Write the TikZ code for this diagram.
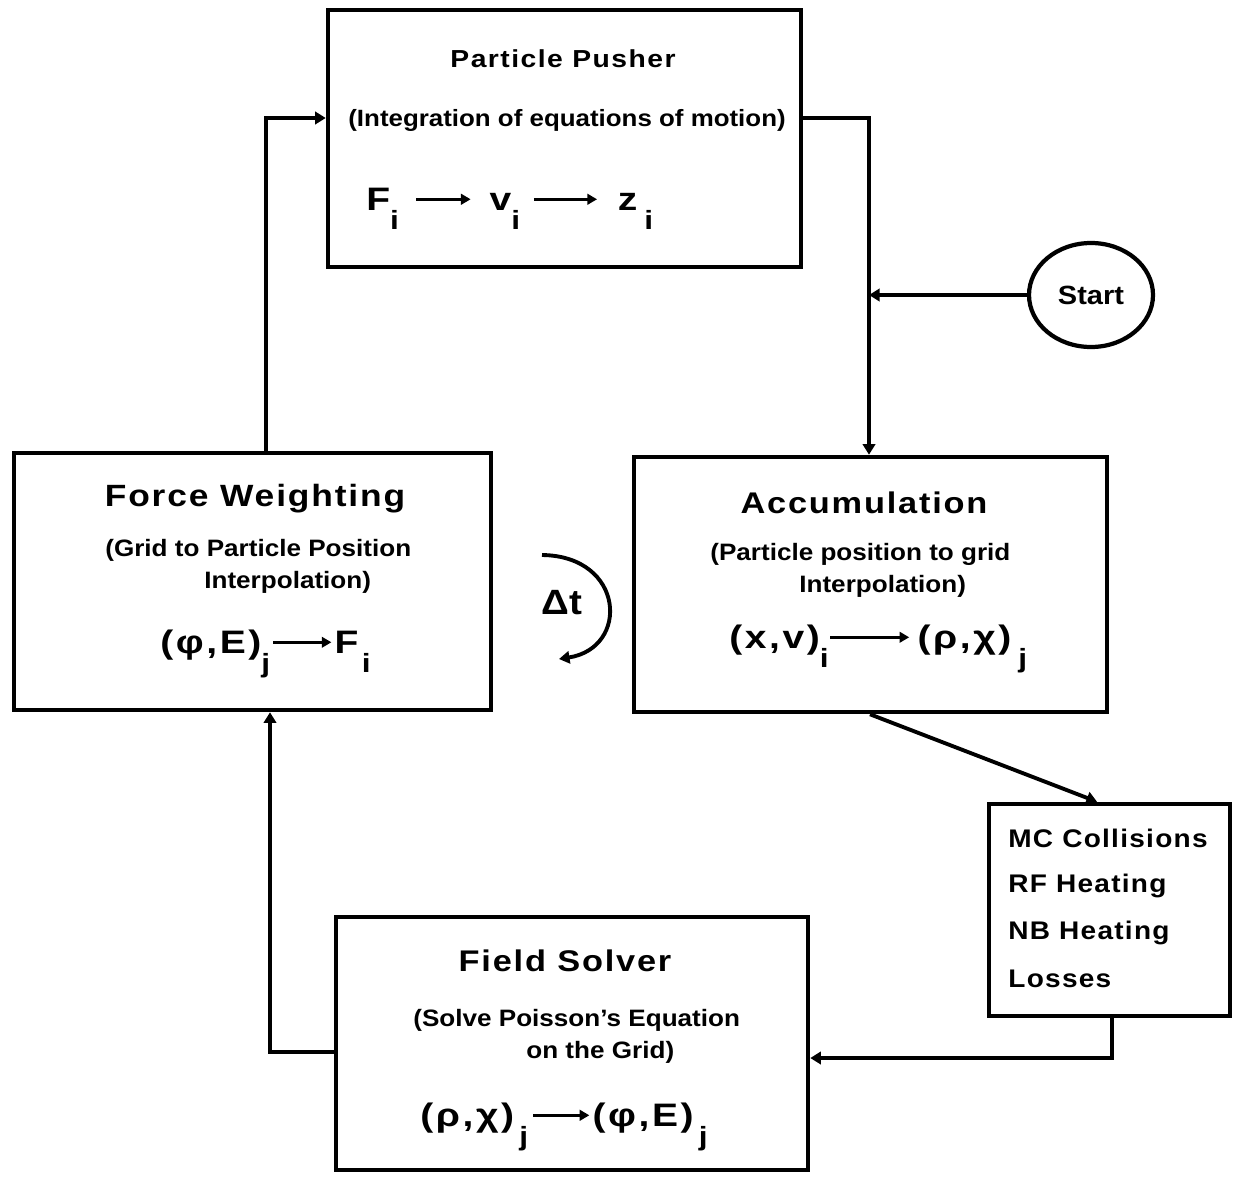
\documentclass[tikz,border=0pt]{standalone}
\usepackage{fontspec}
\setmainfont[FakeStretch=1.1]{Liberation Sans}
\newfontfamily\titlefont[FakeStretch=1.15,LetterSpace=6]{Liberation Sans}
\newfontfamily\mcfont[FakeStretch=1.1,LetterSpace=5]{Liberation Sans}
\newfontfamily\frmfont[FakeStretch=1.2,LetterSpace=8]{Liberation Sans}
\usetikzlibrary{arrows.meta,shapes.geometric,calc}
\newcommand\sbs[1]{\raisebox{-0.6em}{\fontsize{15}{15}\selectfont #1}}
\newcommand\txtarrow[1]{\tikz[baseline=-0.33em]\draw[line width=1.6pt,-{Triangle[length=5.5pt,width=6pt]}] (0pt,0pt) -- (#1,0pt);}
\begin{document}
\begin{tikzpicture}[x=0.02cm,y=-0.02cm,
  box/.style={draw,line width=2.6pt,inner sep=0pt},
  conn/.style={line width=2.2pt,-{Triangle[length=6pt,width=7pt]}},
  ttl/.style={font=\titlefont\bfseries,anchor=base,inner sep=0pt},
  sub/.style={font=\bfseries\fontsize{13.5}{14}\selectfont,anchor=base west,inner sep=0pt},
  frm/.style={font=\frmfont\bfseries\fontsize{18.5}{19}\selectfont,anchor=base west,inner sep=0pt},
  mc/.style={font=\mcfont\bfseries\fontsize{14.5}{15}\selectfont,anchor=base west,inner sep=0pt}]
\useasboundingbox[fill=white] (0,0) rectangle (1239,1176);

% boxes
\node[box,minimum width=473*0.02cm,minimum height=257*0.02cm] (pp) at (564.5,138.5) {};
\node[box,minimum width=477*0.02cm,minimum height=257*0.02cm] (fw) at (252.5,581.5) {};
\node[box,minimum width=473*0.02cm,minimum height=255*0.02cm] (ac) at (870.5,584.5) {};
\node[box,minimum width=472*0.02cm,minimum height=253*0.02cm] (fs) at (572,1043.5) {};
\node[box,minimum width=241*0.02cm,minimum height=212*0.02cm] (mc) at (1109.5,910) {};
\node[draw,ellipse,line width=2.4pt,inner sep=0pt,minimum width=124*0.02cm,minimum height=104*0.02cm,
      font=\bfseries\fontsize{15}{15}\selectfont] (start) at (1091,295) {Start};

% Particle Pusher
\node[ttl,font=\titlefont\bfseries\fontsize{14}{15}\selectfont] (ppt) at (563,68) {Particle Pusher};
\node[sub,font=\bfseries\fontsize{13.4}{14}\selectfont] (pps) at (348,126) {(Integration of equations of motion)};
\node[frm] (ppf) at (366,210) {F\sbs{i}\hspace{9pt}\txtarrow{31pt}\hspace{10pt}v\sbs{i}\hspace{7pt}\txtarrow{36pt}\hspace{11pt}z\hspace{4pt}\sbs{i}};

% Force Weighting
\node[ttl,font=\titlefont\bfseries\fontsize{17.5}{19}\selectfont] (fwt) at (255,506) {Force Weighting};
\node[sub] (fws1) at (105,556) {(Grid to Particle Position};
\node[sub] (fws2) at (204,588) {Interpolation)};
\node[frm] (fwf) at (160,653) {(φ,E)\sbs{j}\hspace{1pt}\txtarrow{33pt}\hspace{1pt}F\hspace{2pt}\sbs{i}};

% Accumulation
\node[ttl,font=\titlefont\bfseries\fontsize{17}{18}\selectfont] (act) at (864,513) {Accumulation};
\node[sub] (acs1) at (710,560) {(Particle position to grid};
\node[sub] (acs2) at (799,592) {Interpolation)};
\node[frm] (acf) at (729,648) {(x,v)\sbs{i}\txtarrow{45pt}\hspace{4pt}(ρ,χ)\hspace{4pt}\sbs{j}};

% Field Solver
\node[ttl,font=\titlefont\bfseries\fontsize{17}{18}\selectfont] (fst) at (565,971) {Field Solver};
\node[sub] (fss1) at (413,1026) {(Solve Poisson's Equation};
\node[sub] (fss2) at (526,1058) {on the Grid)};
\node[frm] (fsf) at (420,1126) {(ρ,χ)\hspace{3pt}\sbs{j}\hspace{2pt}\txtarrow{32pt}\hspace{1pt}(φ,E)\hspace{3pt}\sbs{j}};

% MC box
\node[mc] (mc1) at (1008,847) {MC Collisions};
\node[mc] (mc2) at (1008,892) {RF Heating};
\node[mc] (mc3) at (1008,939) {NB Heating};
\node[mc] (mc4) at (1008,987) {Losses};

% Delta t
\node[font=\bfseries\fontsize{20}{20}\selectfont,anchor=base] (dt) at (562,614) {Δt};
\coordinate (dta) at (542,555);
\coordinate (dtb) at (559,659);
\draw[conn] (dta) .. controls (625,556) and (630,648) .. (dtb);

% connectors
\coordinate (jn) at (869,295);
\draw[conn] ($(fw.north)+(13.5,0)$) |- ($(pp.west)+(0,-20.5)$);
\draw[conn] ($(pp.east)+(0,-20.5)$) -| ($(ac.north)+(-1.5,0)$);
\draw[conn] (start.west) -- (jn);
\draw[conn] ($(ac.south)+(-0.5,0)$) -- ($(mc.north)+(-12.5,0)$);
\draw[conn] ($(mc.south)+(2.5,0)$) |- ($(fs.east)+(0,14.5)$);
\draw[conn] ($(fs.west)+(0,8.5)$) -| ($(fw.south)+(17.5,0)$);
\end{tikzpicture}
\end{document}
